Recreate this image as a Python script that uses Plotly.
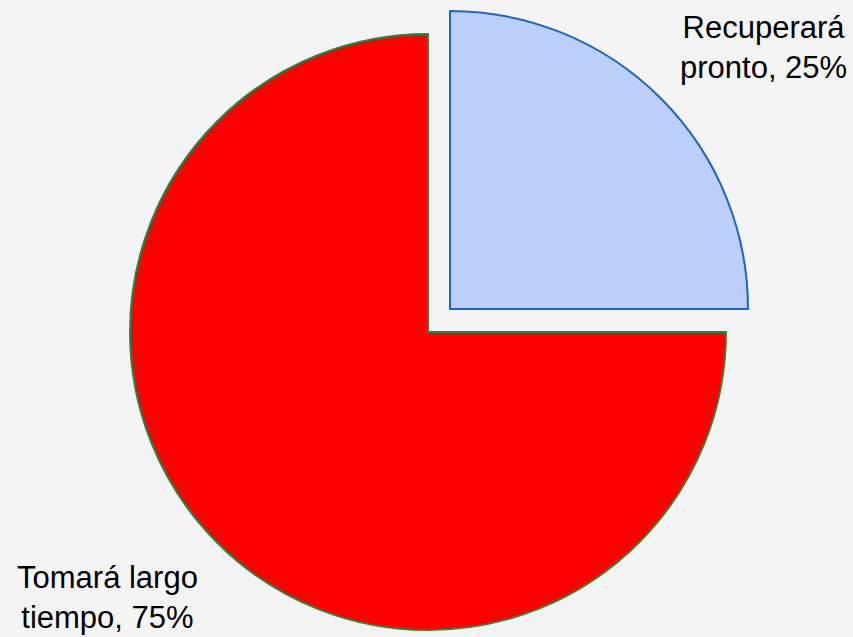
import plotly.graph_objects as go

categories = ["Recuperará pronto", "Tomará largo tiempo"]
values = [25, 75]
label_texts = ["Recuperará<br>pronto, 25%", "Tomará largo<br>tiempo, 75%"]

W, H = 853, 637
R = 298
cx_red, cy_red = 428, 332
cx_blue, cy_blue = 450, 309

def dom(cx, cy):
    return dict(x=[(cx - R) / W, (cx + R) / W],
                y=[1 - (cy + R) / H, 1 - (cy - R) / H])

clear = "rgba(0,0,0,0)"
fig = go.Figure()
fig.add_trace(go.Pie(
    labels=categories, values=values, sort=False, direction="clockwise", rotation=0,
    domain=dom(cx_red, cy_red), textinfo="none", showlegend=False,
    marker=dict(colors=[clear, "#ff0000"],
                line=dict(color=[clear, "#1f8a3c"], width=2)),
))
fig.add_trace(go.Pie(
    labels=categories, values=values, sort=False, direction="clockwise", rotation=0,
    domain=dom(cx_blue, cy_blue), textinfo="none", showlegend=False,
    marker=dict(colors=["#bccffb", clear],
                line=dict(color=["#1a66c2", clear], width=2)),
))

fig.add_annotation(x=763 / W, y=1 - 47 / H, xref="paper", yref="paper",
                   text=label_texts[0], showarrow=False, xanchor="center", yanchor="middle",
                   font=dict(family="Liberation Sans, Arial", size=31, color="#000000"))
fig.add_annotation(x=107 / W, y=1 - 597 / H, xref="paper", yref="paper",
                   text=label_texts[1], showarrow=False, xanchor="center", yanchor="middle",
                   font=dict(family="Liberation Sans, Arial", size=31, color="#000000"))

fig.update_layout(width=W, height=H, autosize=False,
                  margin=dict(l=0, r=0, t=0, b=0),
                  paper_bgcolor="#f4f4f4", plot_bgcolor="#f4f4f4")
fig.write_html("out.html", config={"displayModeBar": False},
               post_script="document.body.style.margin='0';document.body.style.overflow='hidden';document.body.style.background='#f4f4f4';")
